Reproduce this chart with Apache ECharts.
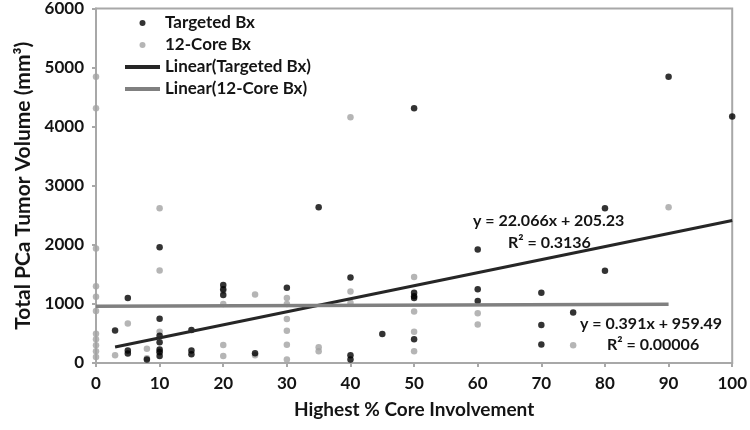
<!DOCTYPE html>
<html>
<head>
<meta charset="utf-8">
<script src="https://cdn.jsdelivr.net/npm/echarts@6/dist/echarts.min.js"></script>
<style>html,body{margin:0;padding:0;background:#fff;}#c{width:750px;height:430px;}</style>
</head>
<body>
<div id="c"></div>
<script>
// Targeted Bx: [highest % core involvement, total tumor volume mm3]
var targetedX = [3, 5, 5, 5, 8, 10, 10, 10, 10, 10, 10, 10, 15, 15, 15, 20, 20, 20, 25, 30, 35, 40, 40, 40, 45, 50, 50, 50, 50, 50, 60, 60, 60, 70, 70, 70, 75, 80, 80, 90, 100];
var targetedY = [550, 1100, 210, 160, 60, 1960, 750, 460, 350, 230, 180, 120, 560, 210, 150, 1320, 1250, 1150, 165, 1275, 2635, 1445, 130, 60, 490, 4310, 1190, 1130, 1100, 400, 1920, 1250, 1050, 1190, 645, 315, 855, 2620, 1560, 4845, 4170];
// 12-Core Bx
var coreX = [0, 0, 0, 0, 0, 0, 0, 0, 0, 0, 0, 3, 5, 8, 8, 10, 10, 10, 10, 20, 20, 20, 20, 25, 25, 30, 30, 30, 30, 30, 30, 35, 35, 40, 40, 40, 50, 50, 50, 50, 60, 60, 75, 90];
var coreY = [4845, 4310, 1936, 1300, 1120, 880, 494, 400, 300, 200, 100, 130, 670, 240, 80, 2620, 1567, 530, 200, 1220, 1000, 305, 120, 1160, 130, 1100, 1000, 745, 545, 310, 60, 265, 200, 4160, 1210, 1020, 1455, 870, 530, 200, 840, 650, 300, 2635];
// Trendlines as printed on the chart
var targetedSlope = 22.066, targetedIntercept = 205.23, targetedRange = [3, 100];
var coreSlope = 0.391, coreIntercept = 959.49, coreRange = [0, 90];
var xTicks = [0, 10, 20, 30, 40, 50, 60, 70, 80, 90, 100];
var yTicks = [0, 1000, 2000, 3000, 4000, 5000, 6000];
var seriesNames = ['Targeted Bx', '12-Core Bx', 'Linear(Targeted Bx)', 'Linear(12-Core Bx)'];
var eqTexts = ['y = 22.066x + 205.23', 'R² = 0.3136', 'y = 0.391x + 959.49', 'R² = 0.00006'];

function pairs(xs, ys) { return xs.map(function (x, i) { return [x, ys[i]]; }); }
function trend(m, b, r) { return [[r[0], m * r[0] + b], [r[1], m * r[1] + b]]; }

var FONT = 'Lato';
var TXT = '#141414';
var lineIcon = 'path://M0,0 M35,6 M0,1 L35,1 L35,5 L0,5 Z';
var chart = echarts.init(document.getElementById('c'), null, { renderer: 'canvas' });
chart.setOption({
  animation: false,
  backgroundColor: '#ffffff',
  textStyle: { fontFamily: FONT },
  grid: { left: 96, right: 16, top: 5, bottom: 67, show: true, borderColor: '#a8a8a8', borderWidth: 2, backgroundColor: 'transparent' },
  legend: {
    orient: 'vertical', left: 120, top: 9,
    itemWidth: 35, itemHeight: 6, itemGap: 4, itemTextGap: 5,
    textStyle: { fontFamily: FONT, fontWeight: 'bold', fontSize: 17, color: TXT, lineHeight: 18 },
    data: [
      { name: seriesNames[0], icon: 'circle' },
      { name: seriesNames[1], icon: 'circle' },
      { name: seriesNames[2], icon: lineIcon },
      { name: seriesNames[3], icon: lineIcon }
    ]
  },
  xAxis: {
    type: 'value', min: 0, max: 100, interval: 10,
    name: 'Highest % Core Involvement', nameLocation: 'middle', nameGap: 37,
    nameTextStyle: { fontFamily: FONT, fontWeight: 'bold', fontSize: 19, color: TXT },
    axisLine: { show: true, lineStyle: { color: '#a8a8a8', width: 2 } },
    axisTick: { show: true, length: 4, lineStyle: { color: '#a8a8a8', width: 2 } },
    axisLabel: { margin: 12, fontFamily: FONT, fontWeight: 'bold', fontSize: 17, color: TXT,
      formatter: function (v) { return xTicks.indexOf(v) >= 0 ? String(v) : ''; } },
    splitLine: { show: false }
  },
  yAxis: {
    type: 'value', min: 0, max: 6000, interval: 1000,
    name: 'Total PCa Tumor Volume (mm³)', nameLocation: 'middle', nameGap: 62, nameRotate: 90,
    nameTextStyle: { fontFamily: FONT, fontWeight: 'bold', fontSize: 21, color: TXT },
    axisLine: { show: true, lineStyle: { color: '#a8a8a8', width: 2 } },
    axisTick: { show: true, length: 4, lineStyle: { color: '#a8a8a8', width: 2 } },
    axisLabel: { margin: 12, fontFamily: FONT, fontWeight: 'bold', fontSize: 17, color: TXT,
      formatter: function (v) { return yTicks.indexOf(v) >= 0 ? String(v) : ''; } },
    splitLine: { show: false }
  },
  series: [
    { name: seriesNames[0], type: 'scatter', symbol: 'circle', symbolSize: 6.5, z: 4,
      itemStyle: { color: '#000000' }, data: pairs(targetedX, targetedY) },
    { name: seriesNames[1], type: 'scatter', symbol: 'circle', symbolSize: 6.5, z: 3,
      itemStyle: { color: '#a3a3a3' }, data: pairs(coreX, coreY) },
    { name: seriesNames[2], type: 'line', symbol: 'none', z: 5,
      lineStyle: { color: '#262626', width: 3 }, itemStyle: { color: '#262626' },
      data: trend(targetedSlope, targetedIntercept, targetedRange) },
    { name: seriesNames[3], type: 'line', symbol: 'none', z: 5,
      lineStyle: { color: '#808080', width: 3.5 }, itemStyle: { color: '#808080' },
      data: trend(coreSlope, coreIntercept, coreRange) }
  ],
  graphic: [
    { type: 'text', left: 473, top: 213, style: { text: eqTexts[0], font: 'bold 16px Lato', fill: TXT } },
    { type: 'text', left: 508, top: 235, style: { text: eqTexts[1], font: 'bold 16px Lato', fill: TXT } },
    { type: 'text', left: 580, top: 316, style: { text: eqTexts[2], font: 'bold 16px Lato', fill: TXT } },
    { type: 'text', left: 607, top: 337, style: { text: eqTexts[3], font: 'bold 16px Lato', fill: TXT } }
  ]
});
</script>
</body>
</html>
